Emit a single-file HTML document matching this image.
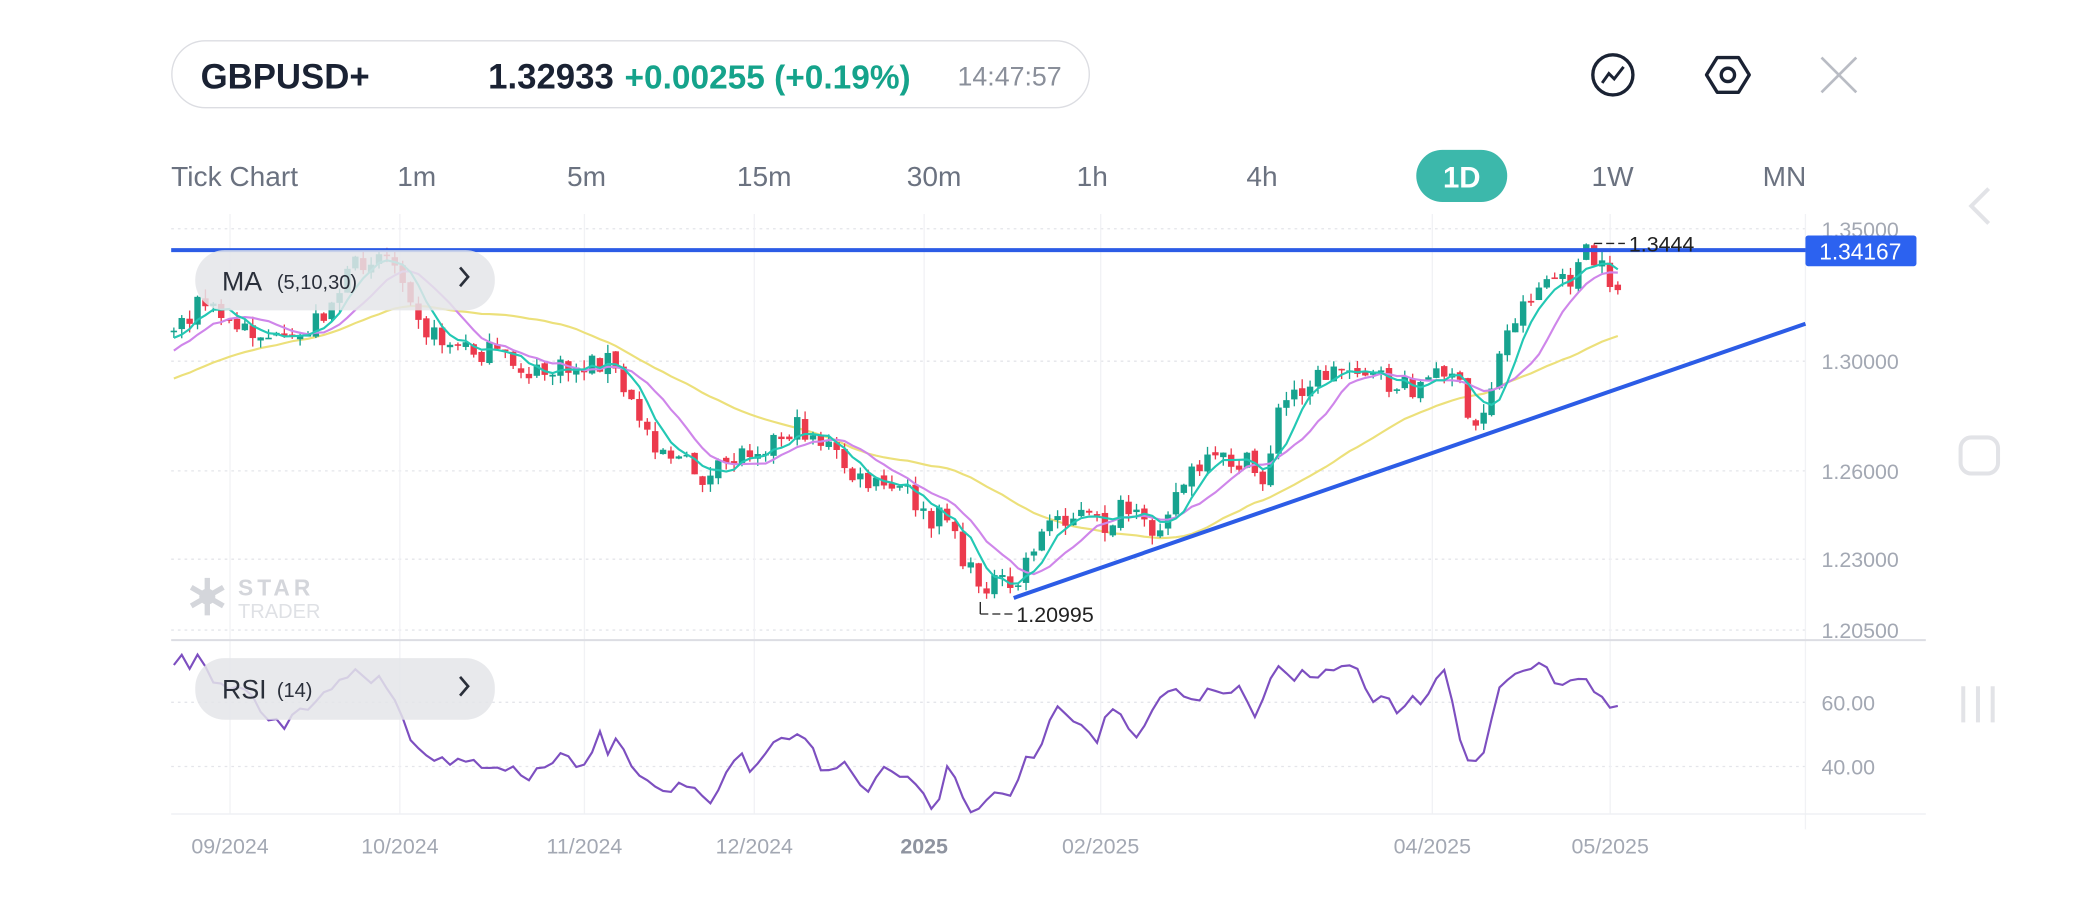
<!DOCTYPE html>
<html><head><meta charset="utf-8">
<style>
html,body{margin:0;padding:0;background:#fff;width:2097px;height:915px;overflow:hidden}
svg{display:block}
text{font-family:"Liberation Sans",sans-serif}
</style></head>
<body>
<svg id="s" width="2097" height="915" viewBox="0 0 1568 684" preserveAspectRatio="none" xmlns="http://www.w3.org/2000/svg">
<rect x="128.5" y="30.5" width="686" height="50" rx="25" fill="#fff" stroke="#dcdde2" stroke-width="1"/>
<text x="150" y="66" font-size="26" font-weight="bold" fill="#1a2233">GBPUSD+</text>
<text x="365" y="66" font-size="26" font-weight="bold" fill="#1a2233">1.32933</text>
<text x="467" y="66" font-size="25" font-weight="bold" fill="#15a38b">+0.00255 (+0.19%)</text>
<text x="716" y="64" font-size="20" fill="#8a8f9a">14:47:57</text>
<circle cx="1206" cy="56" r="15" fill="none" stroke="#1a2233" stroke-width="2.5"/>
<polyline points="1198,62 1203,55 1207,59 1214,50" fill="none" stroke="#1a2233" stroke-width="2.2"/>
<polygon points="1284,43 1300,43 1308,56 1300,69 1284,69 1276,56" fill="none" stroke="#1a2233" stroke-width="2.5" stroke-linejoin="round"/>
<circle cx="1292" cy="56" r="5" fill="none" stroke="#1a2233" stroke-width="2.5"/>
<line x1="1362" y1="43" x2="1388" y2="69" stroke="#b9bcc4" stroke-width="2"/>
<line x1="1388" y1="43" x2="1362" y2="69" stroke="#b9bcc4" stroke-width="2"/>
<g font-size="21" fill="#6b7280">
<text x="128" y="139">Tick Chart</text>
<text x="297" y="139">1m</text>
<text x="424" y="139">5m</text>
<text x="551" y="139">15m</text>
<text x="678" y="139">30m</text>
<text x="805" y="139">1h</text>
<text x="932" y="139">4h</text>
<text x="1190" y="139">1W</text>
<text x="1318" y="139">MN</text>
</g>
<rect x="1059" y="112" width="68" height="39" rx="19.5" fill="#3cb8ab"/>
<text x="1093" y="140" font-size="22" font-weight="bold" fill="#fff" text-anchor="middle">1D</text>
<polyline points="1487,141 1474,154 1487,167" fill="none" stroke="#e2e3e7" stroke-width="3"/>
<rect x="1466" y="327" width="28" height="27" rx="8" fill="none" stroke="#e2e3e7" stroke-width="3"/>
<g stroke="#e2e3e7" stroke-width="3"><line x1="1468" y1="513" x2="1468" y2="540"/><line x1="1479" y1="513" x2="1479" y2="540"/><line x1="1490" y1="513" x2="1490" y2="540"/></g>
<g stroke="#e4e5ea" stroke-width="1" stroke-dasharray="2,3">
<line x1="128" y1="171" x2="1350" y2="171"/>
<line x1="128" y1="270" x2="1350" y2="270"/>
<line x1="128" y1="352" x2="1350" y2="352"/>
<line x1="128" y1="418" x2="1350" y2="418"/>
<line x1="128" y1="471" x2="1350" y2="471"/>
<line x1="128" y1="525" x2="1350" y2="525"/>
<line x1="128" y1="573" x2="1350" y2="573"/>
</g>
<g stroke="#f1f2f5" stroke-width="1">
<line x1="172" y1="160" x2="172" y2="608"/><line x1="299" y1="160" x2="299" y2="608"/>
<line x1="437" y1="160" x2="437" y2="608"/><line x1="564" y1="160" x2="564" y2="608"/>
<line x1="691" y1="160" x2="691" y2="608"/><line x1="823" y1="160" x2="823" y2="608"/>
<line x1="1071" y1="160" x2="1071" y2="608"/><line x1="1204" y1="160" x2="1204" y2="608"/>
<line x1="1350" y1="160" x2="1350" y2="620"/>
</g>
<line x1="128" y1="478.5" x2="1440" y2="478.5" stroke="#dcdde3" stroke-width="1.5"/>
<line x1="128" y1="608.5" x2="1440" y2="608.5" stroke="#eceef2" stroke-width="1"/>
<g font-size="16" fill="#a3a8b3">
<text x="1362" y="177">1.35000</text>
<text x="1362" y="276">1.30000</text>
<text x="1362" y="358">1.26000</text>
<text x="1362" y="424">1.23000</text>
<text x="1362" y="477">1.20500</text>
<text x="1362" y="531">60.00</text>
<text x="1362" y="579">40.00</text>
</g>
<g font-size="16" fill="#a3a8b3" text-anchor="middle">
<text x="172" y="638">09/2024</text><text x="299" y="638">10/2024</text>
<text x="437" y="638">11/2024</text><text x="564" y="638">12/2024</text>
<text x="691" y="638" font-weight="bold" fill="#8f94a0">2025</text><text x="823" y="638">02/2025</text>
<text x="1071" y="638">04/2025</text><text x="1204" y="638">05/2025</text>
</g>
<g fill="#d4d6db"><circle cx="155" cy="446" r="6"/>
<g stroke="#d4d6db" stroke-width="4"><line x1="155" y1="432" x2="155" y2="460"/><line x1="143" y1="439" x2="167" y2="453"/><line x1="167" y1="439" x2="143" y2="453"/></g></g>
<text x="178" y="445" font-size="17" font-weight="bold" fill="#d4d6db" letter-spacing="3">STAR</text>
<text x="178" y="462" font-size="15" fill="#dfe1e5">TRADER</text>
<g id="plot"></g>
<line x1="128" y1="187" x2="1350" y2="187" stroke="#2c5ce6" stroke-width="3"/>
<line x1="758" y1="447" x2="1350" y2="242" stroke="#2c5ce6" stroke-width="3"/>
<rect x="1350" y="176" width="83" height="23" rx="2" fill="#2c62f0"/>
<text x="1391" y="194" font-size="17" fill="#fff" text-anchor="middle">1.34167</text>
<line x1="1192" y1="182" x2="1215" y2="182" stroke="#222" stroke-width="1" stroke-dasharray="6,3"/>
<text x="1218" y="188" font-size="16" fill="#222">1.3444</text>
<line x1="733" y1="459" x2="758" y2="459" stroke="#222" stroke-width="1" stroke-dasharray="6,3"/>
<line x1="733" y1="450" x2="733" y2="459" stroke="#222" stroke-width="1"/>
<text x="760" y="465" font-size="16" fill="#222">1.20995</text>
<rect x="146" y="187" width="224" height="45" rx="22" fill="#e4e5e9" fill-opacity="0.85"/>
<text x="166" y="217" font-size="20" fill="#2a2f3a">MA</text>
<text x="207" y="216" font-size="15" fill="#2a2f3a">(5,10,30)</text>
<polyline points="344,200 350,207 344,214" fill="none" stroke="#2a2f3a" stroke-width="2"/>
<rect x="146" y="492" width="224" height="46" rx="22" fill="#e4e5e9" fill-opacity="0.85"/>
<text x="166" y="522" font-size="20" fill="#2a2f3a">RSI</text>
<text x="207" y="521" font-size="15" fill="#2a2f3a">(14)</text>
<polyline points="344,506 350,513 344,520" fill="none" stroke="#2a2f3a" stroke-width="2"/>
</svg>
<script>
(function(){
var NS="http://www.w3.org/2000/svg",g=document.getElementById("plot");
function el(t,a){var e=document.createElementNS(NS,t);for(var k in a)e.setAttribute(k,a[k]);g.appendChild(e);return e;}
var P=[[-80,320],[0,300],[60,280],[100,262],[130,245],[150,225],[175,245],[200,250],[215,262],[240,235],[270,195],[285,188],[300,200],[310,225],[320,250],[345,260],[370,265],[400,280],[430,275],[455,268],[470,300],[490,330],[510,345],[530,360],[545,345],[560,335],[575,330],[595,320],[610,325],[625,340],[640,360],[660,365],[680,368],[695,395],[710,380],[720,420],[730,435],[745,435],[758,445],[770,410],[790,385],[810,385],[825,395],[840,380],[860,400],[875,375],[890,355],[910,345],[930,345],[945,360],[955,310],[970,290],[990,280],[1015,272],[1030,285],[1050,290],[1070,285],[1083,270],[1090,285],[1100,325],[1110,305],[1120,270],[1130,240],[1145,220],[1160,205],[1170,215],[1185,190],[1195,200],[1210,215]];
function interp(W,x){for(var i=0;i<W.length-1;i++){if(x<=W[i+1][0]){var t=(x-W[i][0])/(W[i+1][0]-W[i][0]);return W[i][1]+t*(W[i+1][1]-W[i][1]);}}return W[W.length-1][1];}
var seed=7;function rnd(){seed=(seed*16807)%2147483647;return seed/2147483647;}
var xs=[],cl=[],op=[],hi=[],lo=[],dx=5.9,prev=null;
for(var i=-40;;i++){var x=130+i*dx;if(x>1211)break;var c=interp(P,x)+(rnd()-0.5)*18;var o=prev===null?c:prev+(rnd()-0.5)*4;
xs.push(x);cl.push(c);op.push(o);hi.push(Math.min(o,c)-rnd()*7);lo.push(Math.max(o,c)+rnd()*7);prev=c;}
function ma(n){var pts=[];for(var i=n;i<cl.length;i++){var s=0;for(var j=i-n+1;j<=i;j++)s+=cl[j];if(xs[i]>=128)pts.push(xs[i].toFixed(1)+","+(s/n).toFixed(1));}return pts.join(" ");}
el("polyline",{points:ma(30),fill:"none",stroke:"#ece07a","stroke-width":1.6});
for(var i=0;i<xs.length;i++){if(xs[i]<128)continue;var up=cl[i]<op[i];var col=up?"#17a38f":"#ec3a4d";
el("line",{x1:xs[i],x2:xs[i],y1:hi[i],y2:lo[i],stroke:col,"stroke-width":1});
var t=Math.min(op[i],cl[i]),h=Math.max(1.2,Math.abs(op[i]-cl[i]));
el("rect",{x:xs[i]-2.4,y:t,width:4.8,height:h,fill:col});}
el("polyline",{points:ma(10),fill:"none",stroke:"#cf86ea","stroke-width":1.6});
el("polyline",{points:ma(5),fill:"none",stroke:"#23c8b4","stroke-width":1.6});
var R=[[130,497],[137,488],[142,500],[148,488],[160,510],[175,515],[190,520],[200,540],[210,540],[215,552],[220,530],[230,530],[245,515],[255,510],[268,496],[275,515],[282,505],[290,515],[300,535],[310,560],[320,565],[335,570],[345,568],[360,572],[372,575],[376,580],[380,570],[390,580],[395,585],[400,572],[410,572],[420,560],[430,575],[440,570],[448,547],[455,565],[462,550],[470,570],[480,580],[490,590],[500,595],[510,585],[520,588],[530,600],[540,590],[545,568],[555,565],[562,580],[570,565],[583,548],[590,555],[600,548],[610,560],[615,580],[625,575],[630,568],[640,580],[648,595],[660,575],[670,578],[680,580],[690,590],[700,610],[705,580],[710,570],[720,595],[728,610],[735,600],[745,590],[758,598],[765,562],[772,570],[780,555],[790,525],[800,540],[810,540],[820,555],[825,540],[835,525],[845,550],[852,550],[860,535],[870,520],[880,515],[888,520],[895,525],[905,515],[915,520],[925,512],[935,530],[940,538],[950,505],[958,498],[965,510],[975,500],[985,508],[995,500],[1005,498],[1015,498],[1025,525],[1035,518],[1045,532],[1055,522],[1065,528],[1075,505],[1082,500],[1090,548],[1098,572],[1110,560],[1120,515],[1130,505],[1140,500],[1155,495],[1165,513],[1175,507],[1185,505],[1195,520],[1205,530],[1210,528]];
var rp=[];for(var i=0;i<xs.length;i++){if(xs[i]<128)continue;rp.push(xs[i].toFixed(1)+","+(interp(R,xs[i])+(rnd()-0.5)*5).toFixed(1));}
el("polyline",{points:rp.join(" "),fill:"none",stroke:"#7d4fc0","stroke-width":1.6});
})();
</script>
</body></html>
